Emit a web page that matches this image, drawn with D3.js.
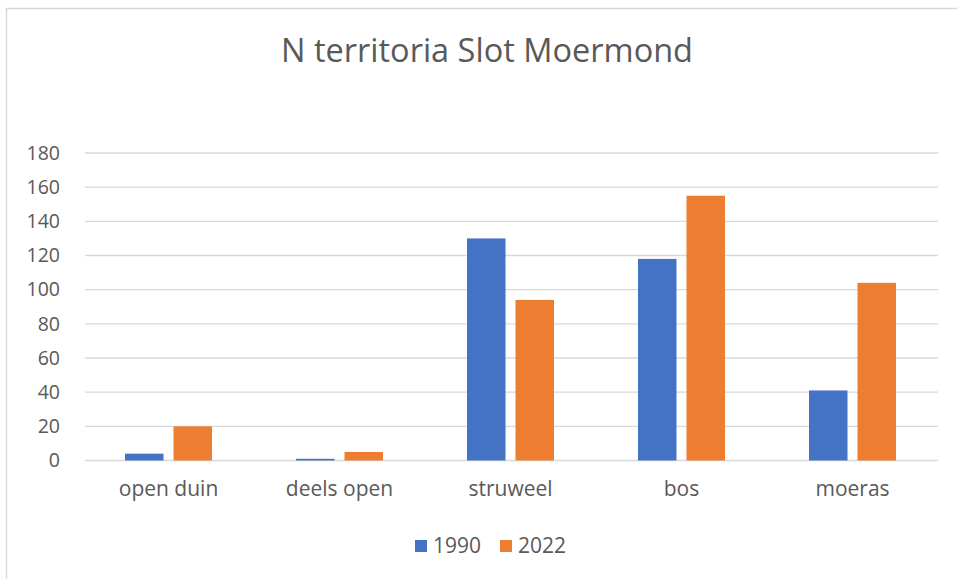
<!DOCTYPE html>
<html>
<head>
<meta charset="utf-8">
<script src="https://cdn.jsdelivr.net/npm/d3@7"></script>
<style>
  body { margin: 0; background: #fff; }
  svg { font-family: "Open Sans", sans-serif; }
</style>
</head>
<body>
<svg id="chart" width="957" height="579"></svg>
<script>
// Chart data
const categories = ['open duin', 'deels open', 'struweel', 'bos', 'moeras'];
const seriesNames = ['1990', '2022'];
const values1990 = [4, 1, 130, 118, 41];
const values2022 = [20, 5, 94, 155, 104];
const yTicks = [0, 20, 40, 60, 80, 100, 120, 140, 160, 180];
const colors = ['#4472C4', '#ED7D31'];

const svg = d3.select('#chart');
const width = 957;
const height = 579;

// outer chart border (only left and top visible in the reference)
svg.append('rect')
    .attr('x', 6.5).attr('y', 8.5)
    .attr('width', 980).attr('height', 600)
    .attr('fill', 'none')
    .attr('stroke', '#d9d9d9')
    .attr('stroke-width', 1.5);

const margin = { top: 153, left: 83, right: 19, bottom: 118 };
const innerW = width - margin.left - margin.right;
const innerH = 460.5 - margin.top;

const g = svg.append('g').attr('transform', `translate(${margin.left},${margin.top})`);

// Scales
const x = d3.scaleBand().domain(categories).range([0, innerW]);
const yScale = d3.scaleLinear().domain([0, 180]).range([innerH, 0]);

// gridlines
g.selectAll('.grid')
    .data(yTicks)
    .enter().append('line')
    .attr('x1', 2).attr('x2', innerW)
    .attr('y1', d => yScale(d)).attr('y2', d => yScale(d))
    .attr('stroke', '#d9d9d9')
    .attr('stroke-width', 1.3);

// y axis labels
const yAxis = d3.axisLeft(yScale).tickValues(yTicks).tickSize(0).tickPadding(23);
g.append('g').call(yAxis)
    .call(a => a.select('.domain').remove())
    .selectAll('text')
    .attr('font-family', '"Open Sans", sans-serif')
    .attr('font-size', 19.5)
    .attr('fill', '#595959');

// bars
const barW = 38.5;
const barGap = 10;
const data = categories.map((c, i) => ({ cat: c, vals: [values1990[i], values2022[i]] }));

data.forEach(d => {
    const cx = x(d.cat) + x.bandwidth() / 2;
    d.vals.forEach((v, j) => {
        const bx = j === 0 ? cx - barGap / 2 - barW : cx + barGap / 2;
        g.append('rect')
            .attr('x', bx)
            .attr('y', yScale(v))
            .attr('width', barW)
            .attr('height', innerH - yScale(v))
            .attr('fill', colors[j]);
    });
});

// x axis labels
const xAxis = d3.axisBottom(x).tickSize(0).tickPadding(21);
g.append('g').attr('transform', `translate(0,${innerH})`).call(xAxis)
    .call(a => a.select('.domain').remove())
    .selectAll('text')
    .attr('font-family', '"Open Sans", sans-serif')
    .attr('font-size', 21)
    .attr('fill', '#595959');

// title
svg.append('text')
    .attr('x', 487).attr('y', 62)
    .attr('text-anchor', 'middle')
    .attr('font-size', 32.5)
    .attr('fill', '#595959')
    .text('N territoria Slot Moermond');

// legend
const legendX = [415, 500];
seriesNames.forEach((s, i) => {
    const lg = svg.append('g').attr('transform', `translate(${legendX[i]},540)`);
    lg.append('rect').attr('width', 12).attr('height', 12).attr('fill', colors[i]);
    lg.append('text')
        .attr('x', 18).attr('y', 13)
        .attr('font-size', 21)
        .attr('fill', '#595959')
        .text(s);
});
</script>
</body>
</html>
